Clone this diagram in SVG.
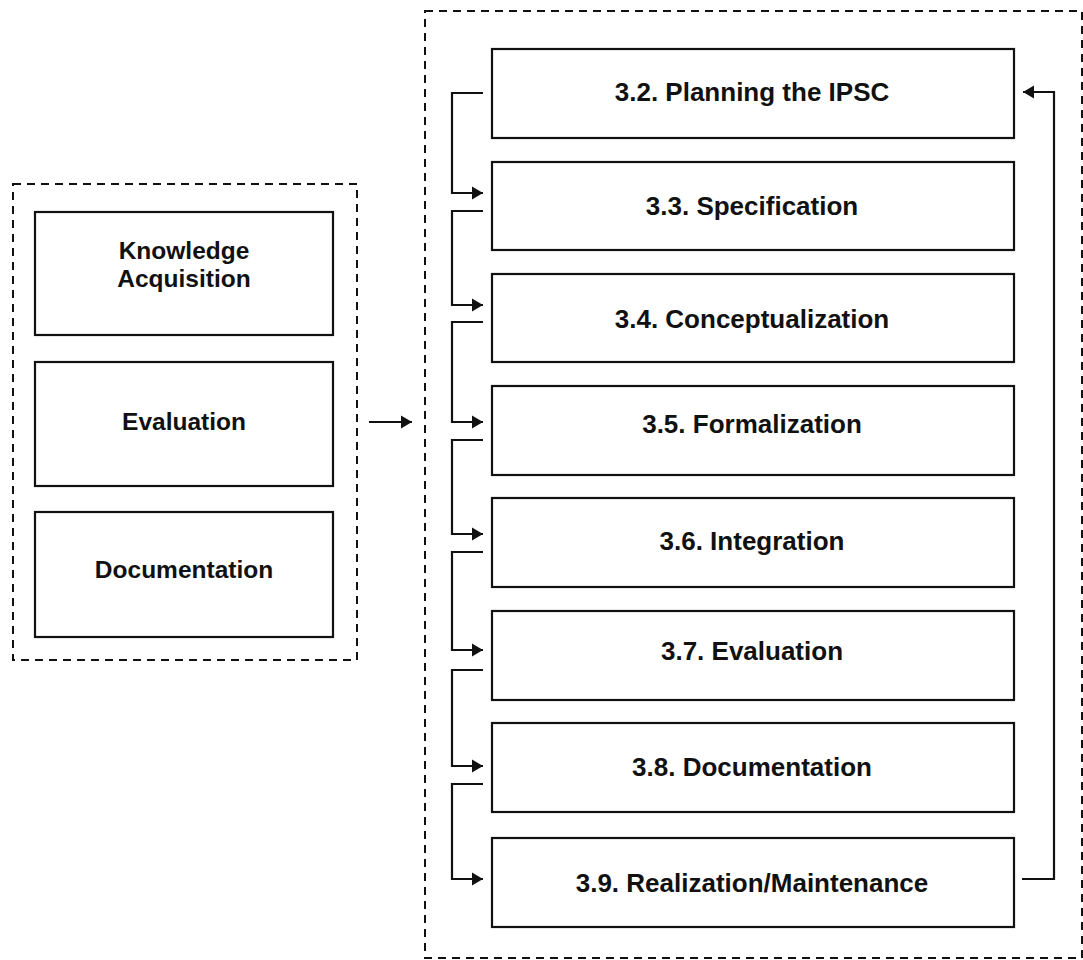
<svg xmlns="http://www.w3.org/2000/svg" width="1083" height="960" viewBox="0 0 1083 960">
<defs>
<style>
.dash{fill:none;stroke:#111;stroke-width:2;stroke-dasharray:8 6}
.box{fill:#fff;stroke:#111;stroke-width:2.2}
.conn{fill:none;stroke:#111;stroke-width:2.2}
.rt{font-family:"Liberation Sans",Arial,sans-serif;font-weight:bold;font-size:26px;fill:#111;text-anchor:middle}
.lt{font-family:"Liberation Sans",Arial,sans-serif;font-weight:bold;font-size:24.5px;fill:#111;text-anchor:middle}
</style>
<marker id="ah" markerUnits="userSpaceOnUse" markerWidth="13" markerHeight="14" refX="11" refY="7" orient="auto">
<path d="M0,0.5 L11,7 L0,13.5 z" fill="#111"/>
</marker>
</defs>
<rect width="1083" height="960" fill="#fff"/>
<g id="groupLeft"><rect class="dash" x="13" y="184" width="344" height="476"/></g>
<g id="groupRight"><rect class="dash" x="425" y="11" width="657" height="947"/></g>
<g id="knowledge"><rect class="box" x="35" y="212" width="298" height="123"/><text class="lt" x="184" y="259">Knowledge</text><text class="lt" x="184" y="287">Acquisition</text></g>
<g id="evaluation"><rect class="box" x="35" y="362" width="298" height="124"/><text class="lt" x="184" y="430">Evaluation</text></g>
<g id="documentation"><rect class="box" x="35" y="512" width="298" height="125"/><text class="lt" x="184" y="578">Documentation</text></g>
<g id="s32"><rect class="box" x="492" y="49" width="522" height="89"/><text class="rt" x="752" y="101">3.2. Planning the IPSC</text></g>
<g id="s33"><rect class="box" x="492" y="162" width="522" height="88"/><text class="rt" x="752" y="215">3.3. Specification</text></g>
<g id="s34"><rect class="box" x="492" y="274" width="522" height="88"/><text class="rt" x="752" y="328">3.4. Conceptualization</text></g>
<g id="s35"><rect class="box" x="492" y="386" width="522" height="89"/><text class="rt" x="752" y="433">3.5. Formalization</text></g>
<g id="s36"><rect class="box" x="492" y="498" width="522" height="89"/><text class="rt" x="752" y="550">3.6. Integration</text></g>
<g id="s37"><rect class="box" x="492" y="611" width="522" height="89"/><text class="rt" x="752" y="660">3.7. Evaluation</text></g>
<g id="s38"><rect class="box" x="492" y="723" width="522" height="89"/><text class="rt" x="752" y="776">3.8. Documentation</text></g>
<g id="s39"><rect class="box" x="492" y="838" width="522" height="89"/><text class="rt" x="752" y="892">3.9. Realization/Maintenance</text></g>
<g id="connectors">
<path class="conn" d="M369,422 H412" marker-end="url(#ah)"/>
<path class="conn" d="M483,93 H452 V193 H483" marker-end="url(#ah)"/>
<path class="conn" d="M483,211 H452 V305 H483" marker-end="url(#ah)"/>
<path class="conn" d="M483,322 H452 V422 H483" marker-end="url(#ah)"/>
<path class="conn" d="M483,440 H452 V534 H483" marker-end="url(#ah)"/>
<path class="conn" d="M483,552 H452 V650 H483" marker-end="url(#ah)"/>
<path class="conn" d="M483,670 H452 V766 H483" marker-end="url(#ah)"/>
<path class="conn" d="M483,784 H452 V879 H483" marker-end="url(#ah)"/>
<path class="conn" d="M1022,879 H1054 V92 H1023" marker-end="url(#ah)"/>
</g>
</svg>
